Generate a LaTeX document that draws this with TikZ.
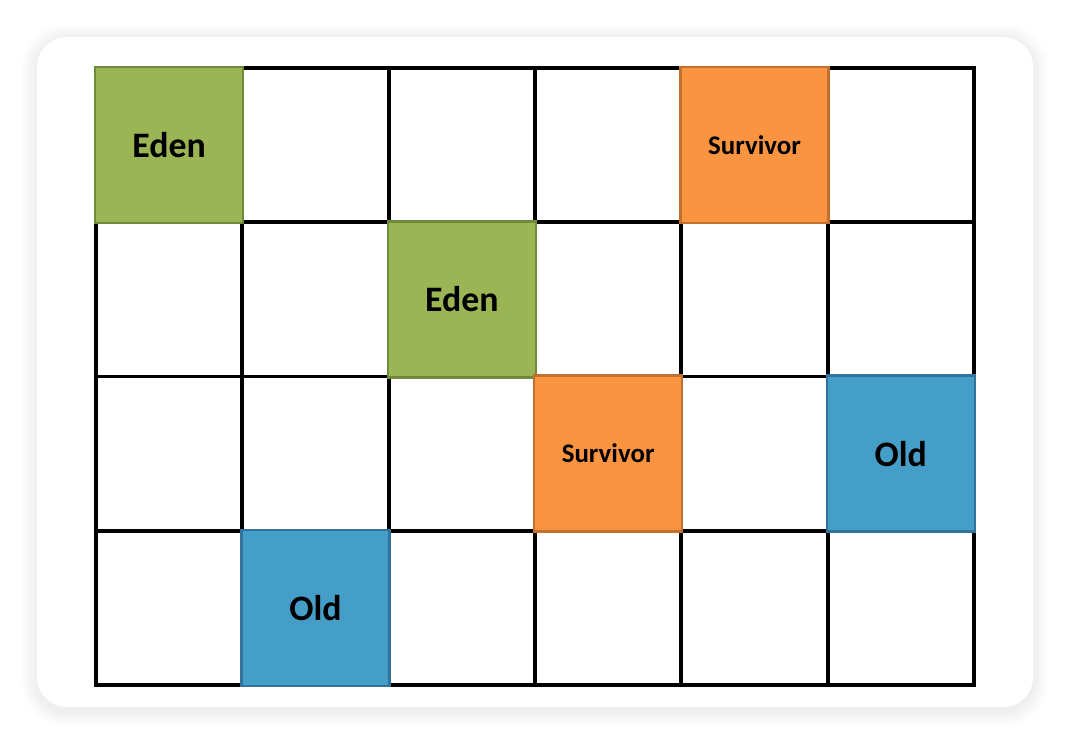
\documentclass[tikz,border=0pt]{standalone}
\usepackage{fontspec}
\setmainfont{Carlito}
\usetikzlibrary{positioning}

\definecolor{edengreen}{HTML}{9BB555}
\definecolor{edenborder}{HTML}{708A3C}
\definecolor{survorange}{HTML}{FA9440}
\definecolor{survborder}{HTML}{C2702F}
\definecolor{oldblue}{HTML}{449EC8}
\definecolor{oldborder}{HTML}{31739A}

\begin{document}
\begin{tikzpicture}[
        x=0.02cm, y=-0.02cm,
        cell/.style={rectangle, draw, line width=2.2pt, minimum width=2.9266cm, minimum height=3.085cm, inner sep=0pt},
        region/.style={rectangle, line width=1.4pt, minimum width=2.96cm, minimum height=3.12cm, inner sep=0pt, font=\fontsize{20.4}{24}\selectfont\bfseries},
        eden/.style={region, fill=edengreen, draw=edenborder},
        surv/.style={region, fill=survorange, draw=survborder, font=\fontsize{15.3}{18}\selectfont\bfseries},
        old/.style={region, fill=oldblue, draw=oldborder}
    ]
        % Page and card with a soft shadow
        \fill[white] (0,0) rectangle (1070,744);
        \foreach \s in {1,...,16} {
            \pgfmathsetmacro{\rad}{0.6+0.02*\s}
            \fill[black, opacity=0.005, rounded corners=\rad cm] (37-\s,39-\s) rectangle (1033+\s,711+\s);
        }
        \fill[white, rounded corners=0.6cm] (37,37) rectangle (1033,707);

        % Grid: 4 rows x 6 columns
        \foreach \r in {1,...,4} {
            \foreach \c in {1,...,6} {
                \node[cell] (c\r\c) at ({96+(\c-0.5)*146.33}, {68+(\r-0.5)*154.25}) {};
            }
        }

        % Row 1
        \node[eden] (eden1) at (c11) {Eden};
        \node[surv] (surv1) at (c15) {Survivor};

        % Row 2
        \node[eden] (eden2) at (c23) {Eden};

        % Row 3
        \node[surv] (surv2) at (c34) {Survivor};
        \node[old] (old1) at (c36) {Old};

        % Row 4
        \node[old] (old2) at (c42) {Old};
    \end{tikzpicture}
\end{document}
